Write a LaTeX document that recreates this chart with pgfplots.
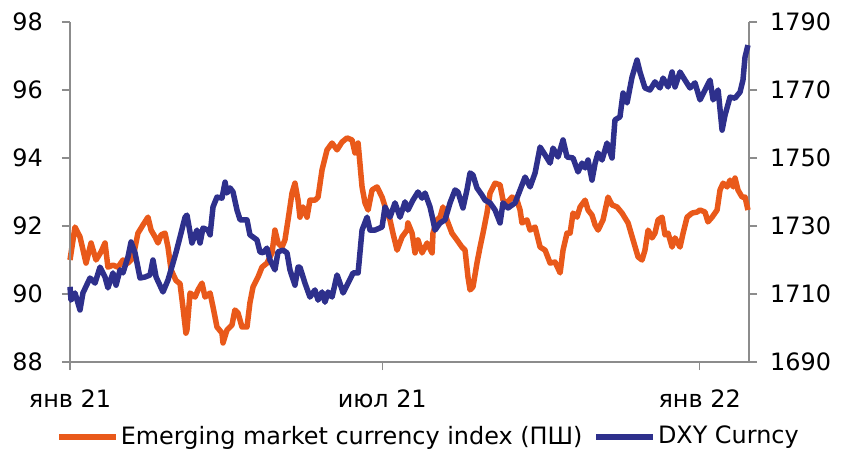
\documentclass[border=0pt]{standalone}
\usepackage{pgfplots}
\pgfplotsset{compat=1.18}
\usepackage{fontspec}
\setmainfont{DejaVu Sans}
\definecolor{emorange}{RGB}{233,89,26}
\definecolor{dxyblue}{RGB}{46,48,140}
\definecolor{axgray}{RGB}{140,140,140}
\begin{document}
\fontsize{24}{29}\selectfont
\begin{tikzpicture}
\path[use as bounding box] (-70bp,-88bp) rectangle (776bp,362bp);
\pgfplotsset{
  common/.style={
    scale only axis, width=679bp, height=340bp,
    xmin=0, xmax=393.6,
    /pgf/number format/assume math mode=true,
    tick align=outside, major tick length=8bp,
    every tick/.style={draw=axgray, line width=1.3bp},
    axis line style={draw=axgray, line width=1.3bp},
    clip=false,
  }
}
% Orange series on the right axis (drawn first)
\begin{axis}[common,
  axis y line*=right, axis x line*=bottom,
  ymin=1690, ymax=1790, ytick={1690,1710,...,1790},
  yticklabel style={anchor=west, xshift=5bp},
  xtick={0,181,365}, xticklabels={янв 21, июл 21, янв 22},
  xticklabel style={anchor=north, yshift=-12bp},
  /pgf/number format/.cd, 1000 sep={}]
\addplot[emorange, line width=5.5bp, line join=round] coordinates {
(0,1720.0)(2.9,1729.7)(5.8,1726.8)(9.3,1719.1)(12.2,1725.0)(15.1,1720.0)(18.0,1722.4)(20.3,1725.0)
(22.0,1717.9)(24.9,1718.5)(27.8,1717.9)(30.7,1720.0)(33.6,1719.1)(36.5,1720.6)(39.4,1727.9)(42.3,1730.3)
(45.2,1732.6)(47.0,1728.8)(49.3,1726.8)(51.0,1725.0)(52.8,1727.4)(55.1,1727.9)(56.8,1723.8)(58.6,1717.1)
(61.4,1714.0)(63.8,1713.0)(65.5,1706.0)(67.2,1698.5)(67.8,1699.4)(69.6,1710.3)(72.5,1709.1)(74.2,1711.2)
(76.5,1713.2)(78.3,1709.1)(81.2,1710.3)(82.9,1706.2)(85.2,1700.3)(88.1,1698.5)(88.7,1695.6)(91.0,1699.4)
(93.9,1700.9)(95.6,1705.3)(97.4,1704.4)(99.7,1700.3)(102.6,1700.3)(104.3,1707.4)(106.1,1712.1)(109.0,1715.0)
(111.3,1717.9)(114.2,1719.1)(117.1,1722.1)(118.8,1728.8)(120.6,1725.0)(122.9,1723.8)(124.6,1725.9)(126.4,1731.8)
(128.7,1739.7)(130.4,1742.6)(132.2,1737.6)(133.3,1732.6)(135.1,1735.6)(137.4,1732.6)(139.1,1737.6)(142.0,1737.6)
(143.8,1738.5)(146.1,1746.5)(149.0,1752.4)(151.9,1754.4)(154.8,1752.4)(157.7,1754.7)(160.6,1755.9)(163.5,1755.3)
(165.2,1751.5)(167.0,1754.4)(169.3,1741.5)(171.0,1736.8)(172.8,1734.7)(175.1,1740.6)(178.0,1741.5)(180.9,1738.5)
(183.8,1733.8)(185.5,1731.8)(187.2,1727.9)(189.6,1722.9)(192.5,1726.8)(195.4,1728.8)(195.9,1730.9)(198.3,1727.9)
(200.0,1722.1)(201.7,1725.9)(204.1,1722.1)(207.0,1725.0)(209.9,1722.1)(210.4,1727.9)(212.7,1731.8)(214.5,1732.6)
(216.2,1735.6)(218.5,1731.8)(221.4,1727.9)(224.3,1725.9)(227.2,1723.8)(229.0,1722.9)(230.7,1715.0)(231.9,1711.2)
(233.6,1712.1)(235.9,1719.1)(237.7,1723.8)(239.4,1727.9)(241.7,1733.8)(243.5,1739.7)(246.4,1742.6)(249.3,1742.1)
(251.0,1737.6)(253.3,1736.8)(256.2,1738.5)(259.1,1737.6)(260.9,1734.7)(262.0,1730.9)(264.9,1731.8)(266.7,1728.8)
(269.6,1729.7)(272.5,1723.8)(275.4,1722.9)(278.3,1719.1)(281.2,1719.4)(284.1,1716.2)(285.8,1722.9)(288.1,1727.9)
(289.9,1727.9)(291.6,1733.8)(293.9,1732.6)(295.7,1735.6)(298.6,1737.6)(300.3,1734.7)(302.6,1733.2)(304.4,1730.3)
(306.1,1728.8)(309.0,1731.8)(311.9,1738.5)(314.2,1736.2)(317.1,1735.6)(320.0,1733.8)(323.5,1730.9)(326.4,1725.9)
(329.3,1720.9)(331.6,1720.0)(333.3,1722.9)(335.1,1728.8)(337.4,1726.5)(339.1,1727.9)(340.9,1731.8)(343.2,1732.6)
(344.9,1727.4)(346.7,1727.9)(349.0,1723.8)(350.7,1726.5)(353.6,1723.8)(355.4,1727.9)(357.7,1732.6)(360.6,1733.8)
(363.5,1734.1)(365.2,1734.7)(368.1,1734.1)(369.8,1731.2)(372.2,1732.6)(375.1,1734.7)(376.8,1740.6)(378.6,1742.6)
(380.9,1741.5)(382.6,1743.5)(384.4,1741.5)(385.5,1744.1)(387.2,1740.6)(389.6,1738.5)(391.3,1738.5)(393.0,1734.7)
};
\end{axis}
% DXY on the left axis
\begin{axis}[common,
  axis y line*=left, axis x line=none,
  ymin=88, ymax=98, ytick={88,90,...,98},
  yticklabel style={anchor=east, xshift=-11bp},
  legend columns=2,
  legend style={draw=none, fill=none, at={(0.528,-0.22)}, anchor=center,
    inner sep=0pt, font=\fontsize{24}{29}\selectfont,
    /tikz/every even column/.append style={column sep=9bp}},
  legend image code/.code={\draw[#1, line width=5.5bp] (0bp,0bp) -- (57bp,0bp);},
  ]
\addlegendimage{emorange}
\addlegendentry{Emerging market currency index (ПШ)}
\addplot[dxyblue, line width=5.5bp, line join=round] coordinates {
(0,90.21)(0.6,89.82)(2.9,90.03)(5.8,89.53)(7.5,90.03)(11.6,90.47)(14.5,90.32)(17.4,90.79)
(20.3,90.50)(22.0,90.18)(24.9,90.62)(26.7,90.26)(29.0,90.71)(30.7,90.62)(33.6,91.09)(35.4,91.53)
(37.7,91.21)(40.6,90.47)(43.5,90.50)(46.4,90.56)(48.1,91.00)(49.9,90.50)(53.9,90.06)(56.8,90.41)
(59.7,90.91)(61.4,91.21)(63.8,91.68)(66.7,92.26)(67.8,92.32)(70.7,91.50)(73.6,91.88)(75.4,91.50)
(77.1,91.94)(80.0,91.88)(81.2,91.74)(82.9,92.56)(85.2,92.85)(88.1,92.82)(89.9,93.29)(91.0,92.97)
(92.8,93.12)(94.5,93.00)(96.8,92.47)(98.6,92.18)(100.3,92.18)(102.6,92.18)(104.3,91.74)(108.4,91.59)
(110.1,91.24)(111.9,91.21)(114.2,91.35)(115.9,91.00)(118.8,90.71)(120.6,91.24)(123.5,91.29)(125.8,91.21)
(127.5,90.71)(130.4,90.26)(132.2,90.79)(133.3,90.79)(136.2,90.32)(139.1,89.91)(142.0,90.12)(143.8,89.82)
(146.1,90.06)(147.8,89.76)(149.6,90.06)(151.9,89.91)(154.8,90.56)(156.5,90.32)(158.3,90.03)(161.2,90.32)
(164.1,90.62)(167.0,90.62)(169.3,91.88)(172.2,92.26)(173.9,91.88)(176.8,91.88)(180.9,91.97)(182.6,92.56)
(185.5,92.26)(188.4,92.68)(191.3,92.26)(194.2,92.71)(195.9,92.47)(198.8,92.76)(201.7,93.00)(204.1,92.82)
(205.8,92.97)(208.7,92.56)(210.4,92.18)(211.6,91.88)(214.5,92.09)(217.4,92.18)(220.3,92.68)(223.2,93.06)
(224.9,93.00)(227.8,92.53)(230.1,93.06)(231.9,93.56)(233.6,93.50)(235.9,93.12)(238.8,92.91)(240.6,92.76)
(243.5,92.68)(246.4,92.47)(249.3,92.09)(251.0,92.68)(253.9,92.53)(258.0,92.68)(260.9,93.06)(263.8,93.44)
(266.7,93.15)(269.6,93.56)(272.5,94.32)(275.4,94.09)(278.3,93.85)(280.0,94.29)(282.9,94.03)(285.8,94.53)
(288.1,94.03)(291.6,94.00)(294.5,93.59)(296.8,93.85)(298.6,93.71)(300.3,93.94)(302.6,93.35)(304.4,93.85)
(306.1,94.15)(308.4,93.94)(311.3,94.44)(314.2,94.00)(315.9,95.12)(318.8,95.21)(320.6,95.91)(322.9,95.62)
(325.8,96.38)(328.7,96.88)(330.4,96.53)(333.3,96.06)(336.2,96.00)(339.1,96.24)(342.0,96.06)(343.8,96.35)
(346.7,96.09)(349.0,96.53)(350.7,96.09)(353.6,96.53)(356.5,96.29)(359.4,96.06)(362.3,96.21)(365.2,95.71)
(368.1,96.00)(371.0,96.29)(372.8,95.71)(375.7,96.00)(378.0,94.82)(379.7,95.26)(382.6,95.79)(385.5,95.76)
(388.4,95.94)(390.1,96.29)(391.3,96.97)(393.0,97.32)
};
\addlegendentry{DXY Curncy}
\end{axis}
\end{tikzpicture}
\end{document}
